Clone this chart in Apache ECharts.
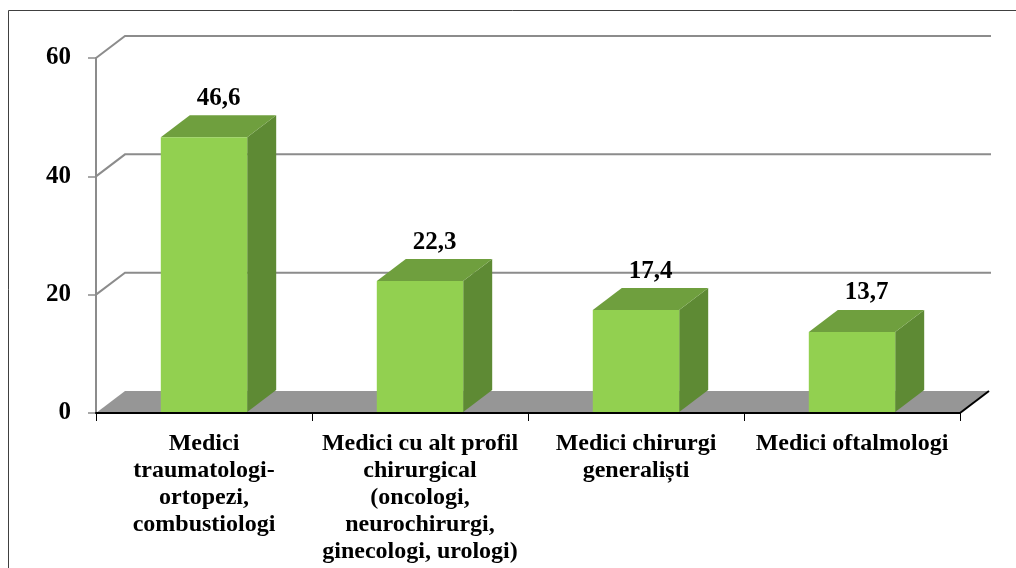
<!DOCTYPE html>
<html>
<head>
<meta charset="utf-8">
<script src="https://cdn.jsdelivr.net/npm/echarts@6/dist/echarts.min.js"></script>
<style>
  html, body { margin: 0; padding: 0; background: #fff; }
  #chart { width: 1016px; height: 568px; }
</style>
</head>
<body>
<div id="chart"></div>
<script>
// categorii si valori (%)
var categories = [
  'Medici\ntraumatologi-\nortopezi,\ncombustiologi',
  'Medici cu alt profil\nchirurgical\n(oncologi,\nneurochirurgi,\nginecologi, urologi)',
  'Medici chirurgi\ngeneraliști',
  'Medici oftalmologi'
];
var values = [46.6, 22.3, 17.4, 13.7];
var yTicks = [0, 20, 40, 60];

var DX = 29, DY = -22;        // adancimea 3D
var FONT = 'Liberation Serif, Times New Roman, serif';

var chart = echarts.init(document.getElementById('chart'));

var option = {
  backgroundColor: '#fff',
  animation: false,
  graphic: [{
    type: 'rect',
    shape: { x: 8.5, y: 10.5, width: 1100, height: 700 },
    style: { fill: 'none', stroke: '#404040', lineWidth: 1 }
  }],
  grid: { left: 96, right: 56, top: 58, bottom: 155 },
  xAxis: {
    type: 'category',
    data: categories,
    z: 5,
    axisLine: { lineStyle: { color: '#000', width: 2 } },
    axisTick: { show: true, interval: 0, length: 8, lineStyle: { color: '#000', width: 1 } },
    axisLabel: {
      interval: 0, margin: 17, color: '#000',
      fontFamily: FONT, fontWeight: 'bold', fontSize: 24, lineHeight: 27
    }
  },
  yAxis: {
    type: 'value', min: 0, max: 60, interval: 20,
    axisLine: { show: true, lineStyle: { color: '#8c8c8c', width: 2 } },
    axisTick: { show: true, length: 8, lineStyle: { color: '#8c8c8c', width: 1.5 } },
    splitLine: { show: false },
    axisLabel: {
      margin: 25, color: '#000',
      fontFamily: FONT, fontWeight: 'bold', fontSize: 25
    }
  },
  series: [
    // podeaua gri
    {
      type: 'custom', z: -2, silent: true,
      data: [[0, 0]],
      renderItem: function (params, api) {
        var cs = params.coordSys;
        var y0 = api.coord([0, 0])[1];
        var l = cs.x, r = cs.x + cs.width;
        return {
          type: 'group',
          children: [{
            type: 'polygon',
            shape: { points: [[l, y0], [r, y0], [r + DX, y0 + DY], [l + DX, y0 + DY]] },
            style: { fill: '#969696' }
          }, {
            type: 'line',
            shape: { x1: r, y1: y0, x2: r + DX, y2: y0 + DY },
            style: { stroke: '#000', lineWidth: 2 }
          }]
        };
      }
    },
    // liniile de grila pe peretele din spate
    {
      type: 'custom', z: -1, silent: true,
      data: yTicks.filter(function (t) { return t > 0; }).map(function (t) { return [0, t]; }),
      encode: { x: 0, y: 1 },
      renderItem: function (params, api) {
        var cs = params.coordSys;
        var y = api.coord([0, api.value(1)])[1];
        var l = cs.x, r = cs.x + cs.width;
        return {
          type: 'polyline',
          shape: { points: [[l, y], [l + DX, y + DY], [r + DX + 2, y + DY]] },
          style: { stroke: '#8c8c8c', lineWidth: 2, fill: 'none' }
        };
      }
    },
    // coloanele 3D
    {
      type: 'custom',
      data: values.map(function (v, i) { return [i, v]; }),
      encode: { x: 0, y: 1 },
      renderItem: function (params, api) {
        var top = api.coord([api.value(0), api.value(1)]);
        var base = api.coord([api.value(0), 0]);
        var w = api.size([1, 0])[0] * 0.4;
        var x1 = top[0] - w / 2, x2 = top[0] + w / 2;
        var yt = top[1], yb = base[1] - 1;
        var label = String(api.value(1)).replace('.', ',');
        return {
          type: 'group',
          children: [{
            type: 'polygon',
            shape: { points: [[x2, yt], [x2 + DX, yt + DY], [x2 + DX, yb + DY], [x2, yb]] },
            style: { fill: '#5e8a34' }
          }, {
            type: 'polygon',
            shape: { points: [[x1, yt], [x1 + DX, yt + DY], [x2 + DX, yt + DY], [x2, yt]] },
            style: { fill: '#6f9f3e' }
          }, {
            type: 'rect',
            shape: { x: x1, y: yt, width: w, height: yb - yt },
            style: { fill: '#92d050' }
          }, {
            type: 'text',
            x: top[0] + DX / 2, y: yt + DY - 17,
            style: {
              text: label, fill: '#000',
              font: 'bold 25px ' + FONT,
              align: 'center', verticalAlign: 'middle'
            }
          }]
        };
      }
    }
  ]
};

chart.setOption(option);
</script>
</body>
</html>
